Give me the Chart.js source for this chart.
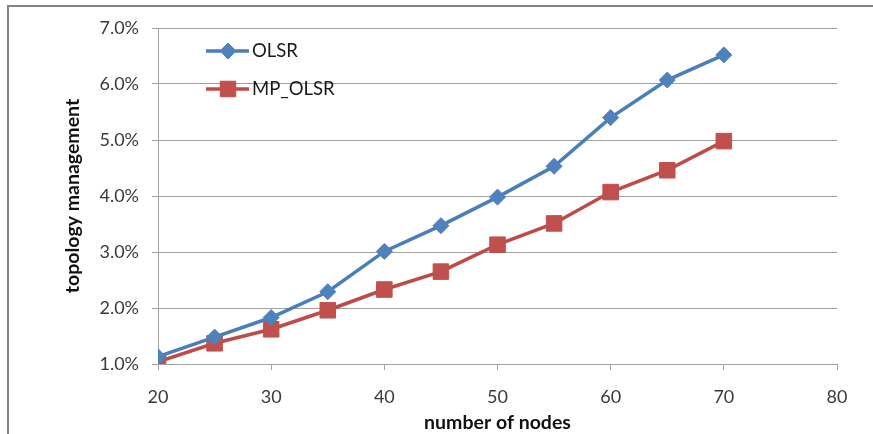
<!DOCTYPE html>
<html>
<head>
<meta charset="utf-8">
<script src="https://cdn.jsdelivr.net/npm/chart.js@4.4.0/dist/chart.umd.min.js"></script>
<style>
html,body{margin:0;padding:0;background:#fff;}
canvas{display:block;}
</style>
</head>
<body>
<canvas id="c" width="873" height="434"></canvas>
<script>
const nodes = [20, 25, 30, 35, 40, 45, 50, 55, 60, 65, 70];
const olsr = [1.13, 1.48, 1.83, 2.29, 3.01, 3.47, 3.98, 4.53, 5.40, 6.07, 6.52];
const mpOlsr = [1.04, 1.37, 1.62, 1.96, 2.33, 2.65, 3.13, 3.51, 4.07, 4.46, 4.98];
const seriesNames = ['OLSR', 'MP_OLSR'];
const xTitle = 'number of nodes';
const yTitle = 'topology management';

const FONT = 'Lato, "Open Sans", sans-serif';

const frame = {
  id: 'frame',
  beforeDraw(chart) {
    const ctx = chart.ctx;
    ctx.save();
    ctx.fillStyle = '#fff';
    ctx.fillRect(0, 0, chart.width, chart.height);
    ctx.strokeStyle = '#858585';
    ctx.lineWidth = 2;
    ctx.beginPath();
    ctx.moveTo(8, chart.height + 5);
    ctx.lineTo(8, 6);
    ctx.lineTo(chart.width + 5, 6);
    ctx.stroke();
    ctx.restore();
  }
};

const innerLegend = {
  id: 'innerLegend',
  afterDatasetsDraw(chart) {
    const ctx = chart.ctx;
    const rows = [51, 89];
    ctx.save();
    chart.data.datasets.forEach((ds, i) => {
      const y = rows[i];
      ctx.strokeStyle = ds.borderColor;
      ctx.lineWidth = ds.borderWidth;
      ctx.beginPath();
      ctx.moveTo(206, y);
      ctx.lineTo(249, y);
      ctx.stroke();
      ctx.fillStyle = ds.pointBackgroundColor;
      ctx.strokeStyle = ds.pointBorderColor;
      ctx.lineWidth = ds.pointBorderWidth;
      Chart.helpers.drawPoint(ctx, {
        pointStyle: ds.pointStyle,
        radius: ds.pointRadius,
        borderWidth: ds.pointBorderWidth
      }, 228, y);
      ctx.fillStyle = '#1a1a1a';
      ctx.font = '18.5px ' + FONT;
      ctx.textBaseline = 'middle';
      ctx.textAlign = 'left';
      ctx.fillText(ds.label, 252, y);
    });
    ctx.restore();
  }
};

const mk = (ys) => nodes.map((x, i) => ({x: x, y: ys[i]}));

new Chart(document.getElementById('c'), {
  type: 'line',
  data: {
    datasets: [
      {
        label: seriesNames[0],
        data: mk(olsr),
        borderColor: '#4A7EBB',
        backgroundColor: '#4F81BD',
        borderWidth: 3.5,
        pointStyle: 'rectRot',
        pointRadius: 8,
        pointBackgroundColor: '#4F81BD',
        pointBorderColor: '#4F81BD',
        pointBorderWidth: 1,
        tension: 0
      },
      {
        label: seriesNames[1],
        data: mk(mpOlsr),
        borderColor: '#BE4B48',
        backgroundColor: '#C0504D',
        borderWidth: 3.5,
        pointStyle: 'rect',
        pointRadius: 11,
        pointBackgroundColor: '#C0504D',
        pointBorderColor: '#C0504D',
        pointBorderWidth: 1,
        tension: 0
      }
    ]
  },
  options: {
    responsive: false,
    animation: false,
    devicePixelRatio: 1,
    layout: {padding: {top: 28, right: 36, left: 10, bottom: 0}},
    plugins: {legend: {display: false}, tooltip: {enabled: false}},
    scales: {
      x: {
        type: 'linear',
        min: 20, max: 80,
        afterFit(s) { s.height = 70; },
        ticks: {stepSize: 10, color: '#3a3a3a', font: {family: FONT, size: 18}, padding: 16},
        grid: {drawOnChartArea: false, drawTicks: true, tickLength: 6, color: '#a0a0a0'},
        border: {color: '#a0a0a0', width: 1},
        title: {display: true, text: xTitle, color: '#111', font: {family: FONT, size: 19.5, weight: 'bold'}, padding: {top: 0, bottom: 0}}
      },
      y: {
        min: 1, max: 7,
        afterFit(s) { s.width = 148; },
        ticks: {stepSize: 1, color: '#3a3a3a', font: {family: FONT, size: 18}, padding: 13,
          callback: (v) => v.toFixed(1) + '%'},
        grid: {color: '#a0a0a0', drawTicks: true, tickLength: 6},
        border: {color: '#a0a0a0', width: 1},
        title: {display: true, text: yTitle, color: '#111', font: {family: FONT, size: 19.5, weight: 'bold'}, padding: {top: 51, bottom: 0}}
      }
    }
  },
  plugins: [frame, innerLegend]
});
</script>
</body>
</html>
